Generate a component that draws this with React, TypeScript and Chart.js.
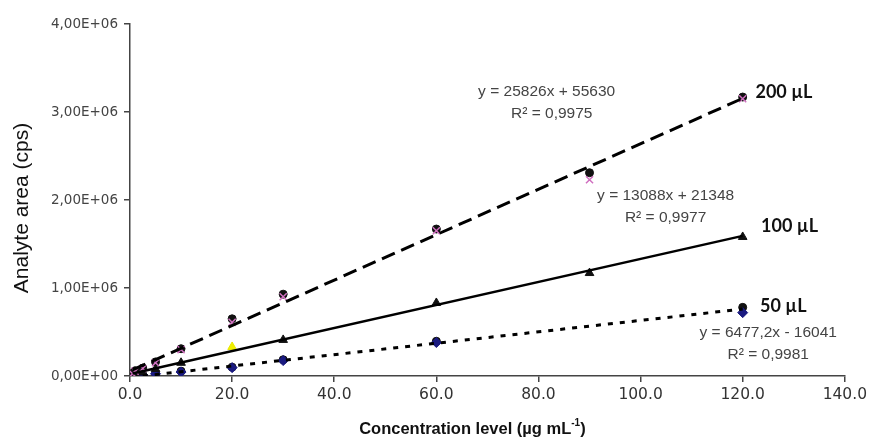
import React, { useEffect, useRef } from "react";
import { Chart, registerables } from "chart.js";

Chart.register(...registerables);

// ---- data ----
const concentrations = [0.5, 1, 2.5, 5, 10, 20, 30, 60, 90, 120];

const area200 = [30000, 60000, 90000, 160000, 310000, 650000, 930000, 1670000, 2310000, 3170000];
const area200Rep = [25000, 55000, 85000, 150000, 300000, 610000, 900000, 1650000, 2230000, 3150000];

const area100 = [10000, 20000, 40000, 80000, 150000, null, 410000, 830000, 1170000, 1580000];
const area100Rep = [null, null, null, null, null, 330000, null, null, null, null];

const area50 = [3000, 8000, 12000, 25000, 45000, 95000, 175000, 380000, null, 720000];
const area50Rep = [5000, 10000, 15000, 30000, 55000, 100000, 185000, 395000, null, 780000];

const trendX = [0.5, 120];
const trend200 = [70000, 3155000];
const trend100 = [28000, 1592000];
const trendX50 = [2.5, 120];
const trend50 = [0, 761000];

const xTicks = [0, 20, 40, 60, 80, 100, 120, 140];
const xTickLabels = ["0.0", "20.0", "40.0", "60.0", "80.0", "100.0", "120.0", "140.0"];
const yTicks = [0, 1000000, 2000000, 3000000, 4000000];
const yTickLabels = ["0,00E+00", "1,00E+06", "2,00E+06", "3,00E+06", "4,00E+06"];

const eqFont = '15.5px "Liberation Sans", Arial, sans-serif';
const volFont = 'bold 18px Lato, "Liberation Sans", sans-serif';
const annotations = [
  { text: "y = 25826x + 55630", x: 81.6, y: 3.23e6, align: "center", font: eqFont, color: "#444" },
  { text: "R² = 0,9975", x: 82.6, y: 2.98e6, align: "center", font: eqFont, color: "#444" },
  { text: "200 µL", x: 122.5, y: 3.22e6, align: "left", font: volFont, color: "#111" },
  { text: "y = 13088x + 21348", x: 104.9, y: 2.045e6, align: "center", font: eqFont, color: "#444" },
  { text: "R² = 0,9977", x: 104.9, y: 1.795e6, align: "center", font: eqFont, color: "#444" },
  { text: "100 µL", x: 123.6, y: 1.7e6, align: "left", font: volFont, color: "#111" },
  { text: "50 µL", x: 123.4, y: 0.795e6, align: "left", font: volFont, color: "#111" },
  { text: "y = 6477,2x - 16041", x: 125, y: 0.49e6, align: "center", font: eqFont, color: "#444" },
  { text: "R² = 0,9981", x: 125, y: 0.24e6, align: "center", font: eqFont, color: "#444" },
];

const toPoints = (xs: number[], ys: (number | null)[]) =>
  xs.map((x, i) => ({ x, y: ys[i] })).filter((p) => p.y !== null) as { x: number; y: number }[];

const annotationPlugin = {
  id: "annotationText",
  afterDatasetsDraw(chart: any) {
    const { ctx, scales, chartArea } = chart;
    ctx.save();
    ctx.textBaseline = "middle";
    for (const a of annotations) {
      ctx.font = a.font;
      ctx.fillStyle = a.color;
      ctx.textAlign = a.align as CanvasTextAlign;
      ctx.fillText(a.text, scales.x.getPixelForValue(a.x), scales.y.getPixelForValue(a.y));
    }
    // x axis title with superscript
    const base = "Concentration level (µg mL";
    const sup = "-1";
    const end = ")";
    const bigF = 'bold 16.5px "Liberation Sans", Arial, sans-serif';
    const smallF = 'bold 10px "Liberation Sans", Arial, sans-serif';
    ctx.font = bigF;
    const w1 = ctx.measureText(base).width;
    const w3 = ctx.measureText(end).width;
    ctx.font = smallF;
    const w2 = ctx.measureText(sup).width;
    const total = w1 + w2 + w3;
    const cx = (chartArea.left + chartArea.right) / 2 - 15;
    const ty = chart.height - 12;
    let sx = cx - total / 2;
    ctx.textAlign = "left";
    ctx.fillStyle = "#111";
    ctx.font = bigF;
    ctx.fillText(base, sx, ty);
    sx += w1;
    ctx.font = smallF;
    ctx.fillText(sup, sx, ty - 6);
    sx += w2;
    ctx.font = bigF;
    ctx.fillText(end, sx, ty);
    // y axis title
    ctx.translate(22, (chartArea.top + chartArea.bottom) / 2 + 8);
    ctx.rotate(-Math.PI / 2);
    ctx.textAlign = "center";
    ctx.font = '21px "Liberation Sans", Arial, sans-serif';
    ctx.fillStyle = "#111";
    ctx.fillText("Analyte area (cps)", 0, 0);
    ctx.restore();
  },
};

export default function App() {
  const ref = useRef<HTMLCanvasElement>(null);
  useEffect(() => {
    document.body.style.margin = "0";
    const chart = new Chart(ref.current as HTMLCanvasElement, {
      type: "scatter",
      data: {
        datasets: [
          {
            type: "line",
            data: toPoints(trendX, trend200),
            borderColor: "#000",
            borderWidth: 3,
            borderDash: [14, 7],
            pointRadius: 0,
            showLine: true,
          },
          {
            type: "line",
            data: toPoints(trendX, trend100),
            borderColor: "#000",
            borderWidth: 2.5,
            pointRadius: 0,
            showLine: true,
          },
          {
            type: "line",
            data: toPoints(trendX50, trend50),
            borderColor: "#000",
            borderWidth: 3,
            borderDash: [5, 7],
            pointRadius: 0,
            showLine: true,
          },
          {
            data: toPoints(concentrations, area200Rep),
            pointStyle: "crossRot",
            pointRadius: 5,
            borderColor: "#d070c0",
            borderWidth: 1.5,
          },
          {
            data: toPoints(concentrations, area200),
            pointStyle: "circle",
            pointRadius: 4,
            backgroundColor: "#111",
            borderColor: "#111",
          },
          {
            data: toPoints(concentrations, area100Rep),
            pointStyle: "triangle",
            pointRadius: 5,
            backgroundColor: "#f0f000",
            borderColor: "#e8e800",
          },
          {
            data: toPoints(concentrations, area100),
            pointStyle: "triangle",
            pointRadius: 5,
            backgroundColor: "#111",
            borderColor: "#111",
          },
          {
            data: toPoints(concentrations, area50),
            pointStyle: "rectRot",
            pointRadius: 5,
            backgroundColor: "#1a1a80",
            borderColor: "#1a1a80",
          },
          {
            data: toPoints(concentrations, area50Rep),
            pointStyle: "circle",
            pointRadius: 4,
            backgroundColor: "#111",
            borderColor: "#111",
          },
        ],
      },
      options: {
        responsive: false,
        animation: false,
        layout: { padding: { left: 0, right: 24, top: 24, bottom: 0 } },
        plugins: { legend: { display: false }, tooltip: { enabled: false } },
        scales: {
          x: {
            type: "linear",
            min: 0,
            max: 140,
            afterBuildTicks: (s: any) => {
              s.ticks = xTicks.map((v) => ({ value: v }));
            },
            afterFit: (s: any) => {
              s.height = 65;
            },
            ticks: {
              callback: (v: any) => {
                const i = xTicks.indexOf(Number(v));
                return i >= 0 ? xTickLabels[i] : "";
              },
              font: { family: '"DejaVu Sans", sans-serif', size: 15.5 },
              color: "#333",
              padding: 4,
              maxRotation: 0,
              autoSkip: false,
            },
            grid: { drawOnChartArea: false, drawTicks: true, tickLength: 6, color: "#444", lineWidth: 1.5 },
            border: { display: true, color: "#444", width: 1.5 },
          },
          y: {
            type: "linear",
            min: 0,
            max: 4000000,
            afterBuildTicks: (s: any) => {
              s.ticks = yTicks.map((v) => ({ value: v }));
            },
            afterFit: (s: any) => {
              s.width = 130;
            },
            ticks: {
              callback: (v: any) => {
                const i = yTicks.indexOf(Number(v));
                return i >= 0 ? yTickLabels[i] : "";
              },
              font: { family: '"DejaVu Sans", sans-serif', size: 13.5 },
              color: "#444",
              padding: 6,
              autoSkip: false,
            },
            grid: { drawOnChartArea: false, drawTicks: true, tickLength: 6, color: "#444", lineWidth: 1.5 },
            border: { display: true, color: "#444", width: 1.5 },
          },
        },
      },
      plugins: [annotationPlugin],
    } as any);
    return () => chart.destroy();
  }, []);
  return (
    <div style={{ position: "fixed", left: 0, top: 0, width: 871, height: 441, background: "#fff" }}>
      <canvas ref={ref} width={871} height={441} />
    </div>
  );
}
